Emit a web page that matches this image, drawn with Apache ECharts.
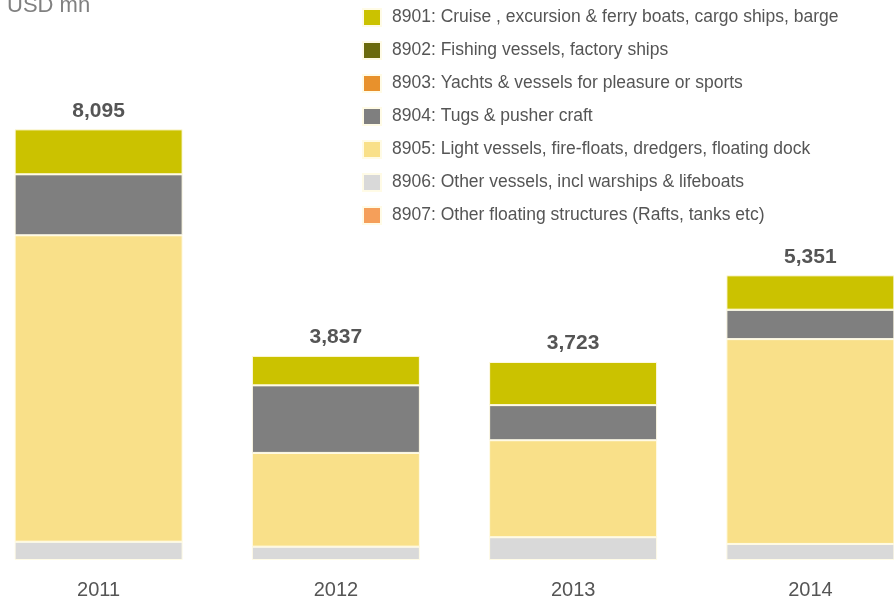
<!DOCTYPE html>
<html>
<head>
<meta charset="utf-8">
<script src="https://cdn.jsdelivr.net/npm/echarts@6/dist/echarts.min.js"></script>
<style>
  html, body { margin: 0; padding: 0; background: #ffffff; overflow: hidden; }
  #wrap { width: 894px; height: 603px; overflow: hidden; position: relative; }
  /* the plot runs past both edges of the frame, so the canvas is wider and shifted left */
  #chart { width: 949px; height: 603px; position: absolute; left: -20px; top: 0; }
</style>
</head>
<body>
<div id="wrap"><div id="chart"></div></div>
<script>
// Ship exports by HS code, USD mn
const years = ['2011', '2012', '2013', '2014'];
const totals = [8095, 3837, 3723, 5351];

const hs8901 = [845, 554, 812, 646];
const hs8902 = [0, 0, 0, 0];
const hs8903 = [0, 0, 0, 0];
const hs8904 = [1146, 1270, 660, 553];
const hs8905 = [5760, 1762, 1823, 3850];
const hs8906 = [344, 251, 428, 302];
const hs8907 = [0, 0, 0, 0];

const names = {
  n8901: '8901: Cruise , excursion & ferry boats, cargo ships, barge',
  n8902: '8902: Fishing vessels, factory ships',
  n8903: '8903: Yachts & vessels for pleasure or sports',
  n8904: '8904: Tugs & pusher craft',
  n8905: '8905: Light vessels, fire-floats, dredgers, floating dock',
  n8906: '8906: Other vessels, incl warships & lifeboats',
  n8907: '8907: Other floating structures (Rafts, tanks etc)'
};

const colors = {
  n8901: '#cbc200',
  n8902: '#6b6a0c',
  n8903: '#e8912c',
  n8904: '#7f7f7f',
  n8905: '#f9e089',
  n8906: '#d9d9d9',
  n8907: '#f59f5a'
};

const font = 'Liberation Sans, Arial, sans-serif';
const shift = 20; // canvas offset to the left of the frame

function bar(key, data, withTotal) {
  const s = {
    name: names[key],
    type: 'bar',
    stack: 'total',
    barWidth: 168,
    data: data,
    itemStyle: { color: colors[key], borderColor: '#fffbe6', borderWidth: 1 },
    emphasis: { disabled: true }
  };
  if (withTotal) {
    s.label = {
      show: true,
      position: 'top',
      distance: 8,
      formatter: p => totals[p.dataIndex].toLocaleString('en-US'),
      fontFamily: font,
      fontSize: 21,
      fontWeight: 'bold',
      color: '#555555'
    };
  }
  return s;
}

const chart = echarts.init(document.getElementById('chart'));
chart.setOption({
  animation: false,
  backgroundColor: '#ffffff',
  grid: { left: 0, right: 0, top: 28, bottom: 43 },
  xAxis: {
    type: 'category',
    data: years,
    axisLine: { show: false },
    axisTick: { show: false },
    axisLabel: { fontFamily: font, fontSize: 20, color: '#555555', margin: 20 }
  },
  yAxis: {
    type: 'value',
    min: 0,
    max: 10000,
    show: false,
    splitLine: { show: false }
  },
  legend: {
    orient: 'vertical',
    left: 362 + shift,
    top: 8,
    padding: 0,
    itemWidth: 18,
    itemHeight: 17,
    itemGap: 14,
    icon: 'rect',
    selectedMode: false,
    data: [names.n8901, names.n8902, names.n8903, names.n8904, names.n8905, names.n8906, names.n8907],
    textStyle: { fontFamily: font, fontSize: 17.5, color: '#555555', padding: [0, 0, 0, 6] }
  },
  graphic: [{
    type: 'text',
    left: 7 + shift,
    top: -5,
    style: { text: 'USD mn', fontFamily: font, fontSize: 22, fill: '#808080' }
  }],
  series: [
    bar('n8906', hs8906),
    bar('n8907', hs8907),
    bar('n8905', hs8905),
    bar('n8904', hs8904),
    bar('n8903', hs8903),
    bar('n8902', hs8902),
    bar('n8901', hs8901, true)
  ]
});
</script>
</body>
</html>
